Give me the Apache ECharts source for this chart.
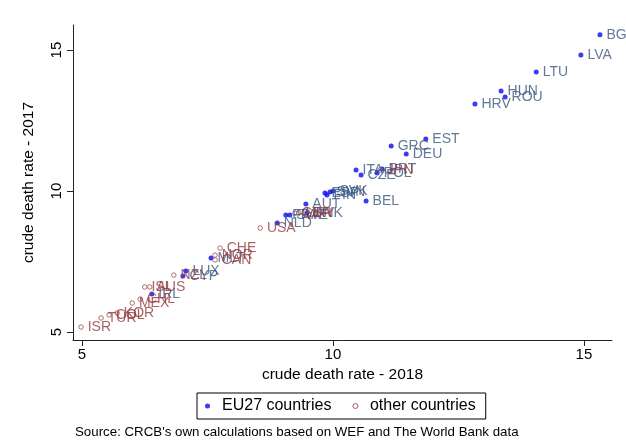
<!DOCTYPE html>
<html>
<head>
<meta charset="utf-8">
<script src="https://cdn.jsdelivr.net/npm/echarts@6/dist/echarts.min.js"></script>
<style>html,body{margin:0;padding:0;background:#fff}#c{width:626px;height:440px}</style>
</head>
<body>
<div id="c"></div>
<script>
// EU27 countries
var euNames = ["BGR","LVA","LTU","HUN","ROU","HRV","EST","GRC","DEU","ITA","CZE","POL","PRT","ESP","FIN","SVN","SVK","BEL","AUT","DNK","SWE","FRA","NLD","MLT","LUX","CYP","IRL"];
var euX2018 = [15.32,14.94,14.05,13.35,13.43,12.83,11.85,11.16,11.46,10.46,10.56,10.88,10.98,9.84,9.88,9.94,10.00,10.66,9.46,9.48,9.14,9.06,8.89,7.57,7.07,7.01,6.39];
var euY2017 = [15.54,14.83,14.22,13.55,13.34,13.09,11.85,11.60,11.32,10.75,10.57,10.64,10.78,9.93,9.86,9.97,10.00,9.65,9.54,9.22,9.15,9.15,8.87,7.63,7.17,6.99,6.35];
// other countries
var otNames = ["ISR","TUR","COL","KOR","MEX","CHL","ISL","AUS","NZL","CAN","NOR","CHE","USA","GBR","URY","JPN"];
var otX2018 = [4.98,5.38,5.54,5.70,6.00,6.16,6.25,6.35,6.83,7.65,7.65,7.75,8.55,9.24,9.32,10.94];
var otY2017 = [5.18,5.50,5.61,5.68,6.03,6.17,6.60,6.60,7.02,7.56,7.73,7.98,8.69,9.22,9.22,10.75];
var xTicks = [5,10,15];
var yTicks = [5,10,15];

function pts(xs, ys, ns){ return xs.map(function(x,i){ return [x, ys[i], ns[i]]; }); }

var FONT = "Liberation Sans, Arial, sans-serif";
var chart = echarts.init(document.getElementById('c'), null, {renderer:'canvas'});
chart.setOption({
  animation:false,
  backgroundColor:'#fff',
  textStyle:{fontFamily:FONT},
  grid:{left:73, right:14, top:25, bottom:100},
  xAxis:{
    type:'value', min:4.82, max:15.56,
    name:'crude death rate - 2018', nameLocation:'middle', nameGap:27,
    nameTextStyle:{fontSize:15.5, color:'#000', fontFamily:FONT},
    axisLine:{show:true, lineStyle:{color:'#222', width:1}},
    axisTick:{show:true, customValues:xTicks, length:6, lineStyle:{color:'#222'}},
    axisLabel:{customValues:xTicks, fontSize:15, color:'#000', margin:7, fontFamily:FONT},
    splitLine:{show:false}
  },
  yAxis:{
    type:'value', min:4.72, max:15.89,
    name:'crude death rate - 2017', nameLocation:'middle', nameGap:36,
    nameTextStyle:{fontSize:15.5, color:'#000', fontFamily:FONT},
    axisLine:{show:true, lineStyle:{color:'#222', width:1}},
    axisTick:{show:true, customValues:yTicks, length:6, lineStyle:{color:'#222'}},
    axisLabel:{customValues:yTicks, fontSize:15, color:'#000', margin:9, rotate:90, fontFamily:FONT},
    splitLine:{show:false}
  },
  legend:{
    left:197, top:393, orient:'horizontal',
    borderColor:'#000', borderWidth:1, padding:[5,10,5,8], itemGap:21,
    itemWidth:5, itemHeight:5,
    textStyle:{fontSize:16, color:'#000', fontFamily:FONT, padding:[0,0,0,7]},
    data:[{name:'EU27 countries', icon:'circle'},
          {name:'other countries', icon:'circle', itemStyle:{color:'#fff', borderColor:'#93393f', borderWidth:1}}]
  },
  title:{
    text:"Source: CRCB's own calculations based on WEF and The World Bank data",
    left:70, top:421,
    textStyle:{fontSize:13.3, fontWeight:'normal', color:'#000', fontFamily:FONT}
  },
  series:[
    {
      name:'EU27 countries', type:'scatter', symbol:'circle', symbolSize:5,
      itemStyle:{color:'#0a0af0'},
      data:pts(euX2018, euY2017, euNames),
      label:{show:true, position:'right', distance:4, formatter:function(p){return p.data[2];},
        fontSize:14, color:'#3a5680', fontFamily:FONT},
      emphasis:{disabled:true}
    },
    {
      name:'other countries', type:'scatter', symbol:'circle', symbolSize:4.5,
      itemStyle:{color:'#fff', borderColor:'#93393f', borderWidth:0.9},
      data:pts(otX2018, otY2017, otNames),
      label:{show:true, position:'right', distance:4, formatter:function(p){return p.data[2];},
        fontSize:14, color:'#93393f', fontFamily:FONT},
      emphasis:{disabled:true}
    }
  ]
});
</script>
</body>
</html>
